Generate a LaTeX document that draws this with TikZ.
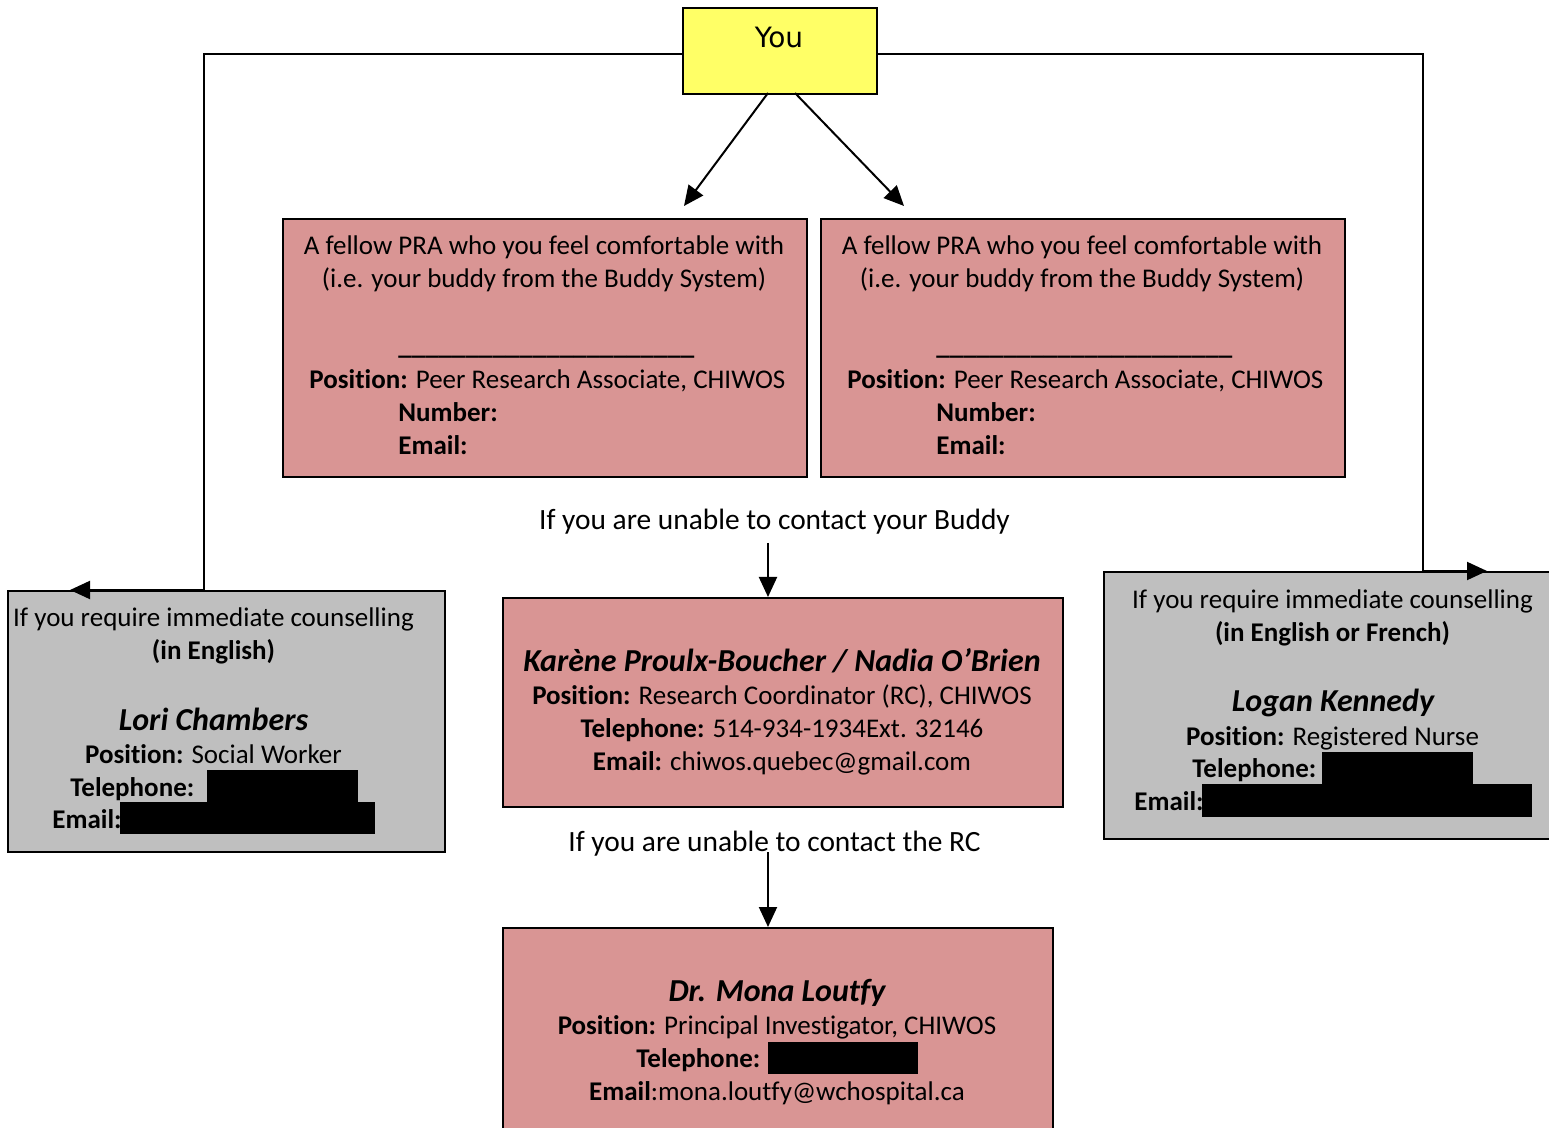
\documentclass[tikz,border=0pt]{standalone}
\usepackage{fontspec}
\setmainfont[Ligatures=NoCommon]{Carlito}
\newfontfamily\youfont{DejaVu Sans}
\usetikzlibrary{arrows.meta}

\definecolor{rosefill}{RGB}{217,149,148}
\definecolor{greyfill}{RGB}{191,191,191}
\definecolor{youfill}{RGB}{255,255,102}

\tikzset{
  box/.style={draw=black, line width=1pt, anchor=north west, inner sep=0pt},
  rosebox/.style={box, fill=rosefill},
  greybox/.style={box, fill=greyfill},
  txt/.style={inner sep=0pt, yshift=-2.5pt, font=\fontsize{13.5}{16.5}\selectfont},
  ctxt/.style={txt, anchor=mid},
  ltxt/.style={txt, anchor=mid west},
  steptxt/.style={ctxt, font=\fontsize{14.7}{17}\selectfont},
  nametxt/.style={inner sep=0pt, anchor=mid, yshift=-3.5pt, font=\fontsize{16}{19}\selectfont\bfseries\itshape},
  link/.style={line width=1pt, -{Triangle[length=10pt,width=9pt]}},
  redact/.style={fill=black},
}

\begin{document}
\begin{tikzpicture}[x=0.5pt,y=-0.5pt]
\useasboundingbox (0,0) rectangle (1549,1128);
\begin{scope}
\clip (0,0) rectangle (1549,1128);

% boxes
\node[box, fill=youfill, minimum width=97pt, minimum height=43pt] (you) at (682,7) {};
\node[rosebox, minimum width=262pt, minimum height=129pt] (buddyA) at (282,218) {};
\node[rosebox, minimum width=262pt, minimum height=129pt] (buddyB) at (820,218) {};
\node[rosebox, minimum width=280pt, minimum height=104.5pt] (rc) at (502,597) {};
\node[rosebox, minimum width=275pt, minimum height=110pt] (pi) at (502,927) {};
\node[greybox, minimum width=218.5pt, minimum height=130.5pt] (left) at (7,590) {};
\node[greybox, minimum width=230pt, minimum height=133.5pt] (right) at (1103,571) {};

% top box label
\node[inner sep=0pt, anchor=mid, yshift=-2.5pt, font=\youfont\fontsize{14}{16}\selectfont] (youtxt) at (779,38) {You};

% connector points
\coordinate (lcorner) at (204,590);
\coordinate (lefttip) at (70,590);
\coordinate (rcorner) at (1423,571);
\coordinate (righttip) at (1487,571);
\coordinate (ya) at (768,93);
\coordinate (yb) at (795,93);
\coordinate (tipA) at (684,206);
\coordinate (tipB) at (904,206);
\coordinate (a1) at (768,543);
\coordinate (a2) at (768,852);

% connectors
\draw[link] ([yshift=-1.5pt]you.west) -| (lcorner) -- (lefttip);
\draw[link] ([yshift=-1.5pt]you.east) -| (rcorner) -- (righttip);
\draw[link] (ya) -- (tipA);
\draw[link] (yb) -- (tipB);
\draw[link] (a1) -- (a1 |- rc.north);
\draw[link] (a2) -- (a2 |- pi.north);

% buddy boxes
\foreach \dx/\nm in {0/A,538/B}{
  \node[ctxt] (l1\nm) at (544+\dx,245) {A fellow PRA who you feel comfortable with};
  \node[ctxt] (l2\nm) at (544+\dx,278) {(i.e. your buddy from the Buddy System)};
  \node[txt, anchor=base west, yshift=2.5pt] (ul\nm) at (398+\dx,355) {\bfseries \_\_\_\_\_\_\_\_\_\_\_\_\_\_\_\_\_\_\_\_\_\_};
  \node[ltxt] (pos\nm) at (309+\dx,379) {\textbf{Position:} Peer Research Associate, CHIWOS};
  \node[ltxt] (num\nm) at (398+\dx,412) {\textbf{Number:}};
  \node[ltxt] (em\nm) at (398+\dx,445) {\textbf{Email:}};
}

% step labels
\node[steptxt] (lblbuddy) at (774.5,520) {If you are unable to contact your Buddy};
\node[steptxt] (lblrc) at (774.5,842) {If you are unable to contact the RC};

% research coordinator
\node[nametxt] (rcname) at (782,660) {Karène Proulx-Boucher / Nadia O’Brien};
\node[ctxt] (rcpos) at (782,695) {\textbf{Position:} Research Coordinator (RC), CHIWOS};
\node[ctxt] (rctel) at (782,728) {\textbf{Telephone:} 514-934-1934Ext. 32146};
\node[ctxt] (rcem) at (782,761) {\textbf{Email:} chiwos.quebec@gmail.com};

% principal investigator
\node[nametxt] (piname) at (777,990) {Dr. Mona Loutfy};
\node[ctxt] (pipos) at (777,1025) {\textbf{Position:} Principal Investigator, CHIWOS};
\node[ltxt] (pitel) at (636,1058) {\textbf{Telephone:}};
\fill[redact] (768,1042) rectangle (918,1074);
\node[ctxt] (piem) at (777,1091) {\textbf{Email}:mona.loutfy@wchospital.ca};

% counselling, English
\node[ctxt] (lf1) at (213.5,617) {If you require immediate counselling};
\node[ctxt] (lf2) at (213.5,650) {\textbf{(in English)}};
\node[nametxt] (lfname) at (213.5,719) {Lori Chambers};
\node[ctxt] (lfpos) at (213.5,754) {\textbf{Position:} Social Worker};
\node[ltxt] (lftel) at (70,787) {\textbf{Telephone:}};
\fill[redact] (207,770) rectangle (358,802);
\node[ltxt] (lfem) at (52,819) {\textbf{Email:}};
\fill[redact] (120,802) rectangle (375,834);

% counselling, English or French
\node[ctxt] (rt1) at (1332.5,599) {If you require immediate counselling};
\node[ctxt] (rt2) at (1332.5,632) {\textbf{(in English or French)}};
\node[nametxt] (rtname) at (1333,700) {Logan Kennedy};
\node[ctxt] (rtpos) at (1332.5,736) {\textbf{Position:} Registered Nurse};
\node[ltxt] (rttel) at (1192,768) {\textbf{Telephone:}};
\fill[redact] (1322,752) rectangle (1473,784);
\node[ltxt] (rtem) at (1134,801) {\textbf{Email:}};
\fill[redact] (1202,784) rectangle (1532,817);
\end{scope}
\end{tikzpicture}
\end{document}
